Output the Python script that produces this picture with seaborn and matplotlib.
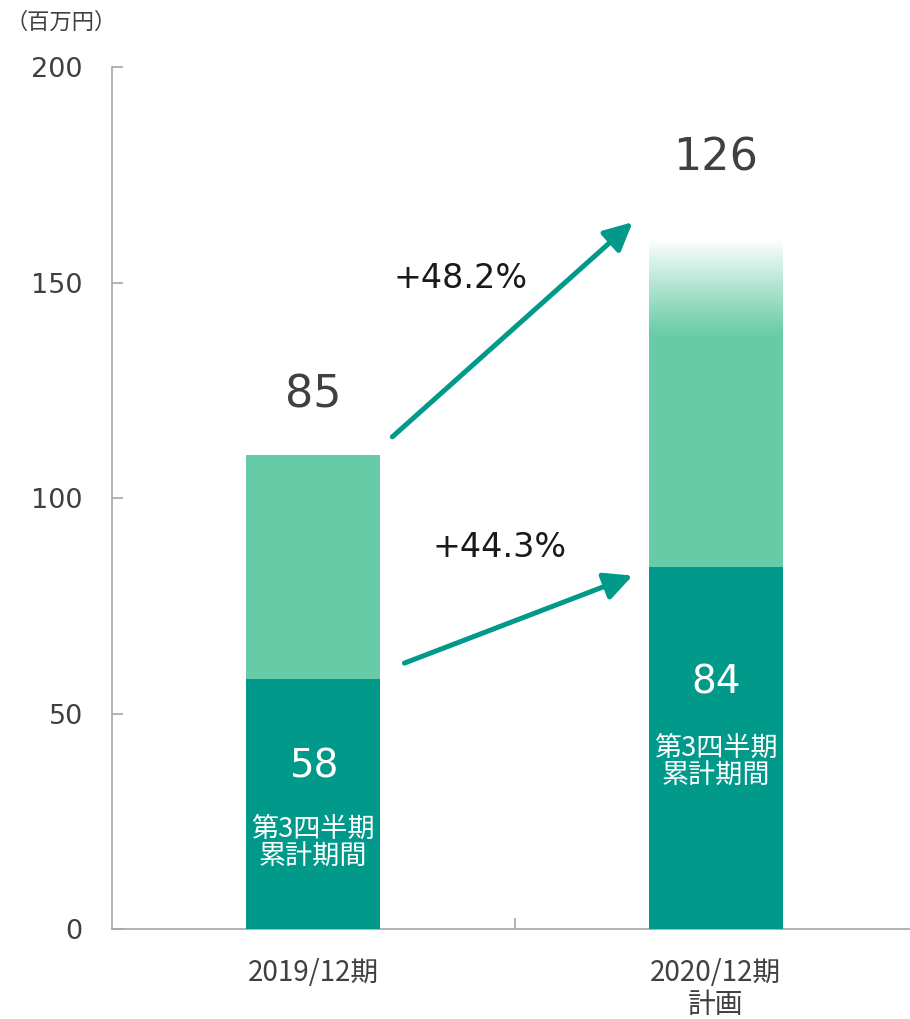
import numpy as np
import pandas as pd
import matplotlib
matplotlib.use("Agg")
import matplotlib.pyplot as plt
import seaborn as sns

# ---- data -------------------------------------------------------------
categories = ["2019/12期", "2020/12期\n計画"]
q3_cumulative = [58, 84]              # 第3四半期累計期間 (百万円)
full_period_bar = [110, 160]          # height of the full-period bar
full_year_labels = ["85", "126"]      # full-year figures shown above the bars
growth_labels = ["+48.2%", "+44.3%"]  # full-year growth, Q3 cumulative growth
segment_caption = "第3四半期\n累計期間"
unit_label = "（百万円）"
y_ticks = [0, 50, 100, 150, 200]

# ---- style ------------------------------------------------------------
DARK = "#00998A"
LIGHT = "#66CBA6"
AXIS = "#A6A6A6"
TEXT = "#404040"

sns.set_theme(style="white")
plt.rcParams["font.family"] = ["DejaVu Sans", "Noto Sans CJK JP"]
CJK = ["Noto Sans CJK JP", "DejaVu Sans"]

df = pd.DataFrame({"period": categories,
                   "q3": q3_cumulative,
                   "full": full_period_bar})

fig = plt.figure(figsize=(9.10, 10.19), dpi=100)
ax = fig.add_axes([0.1231, 0.0883, 0.8846, 0.8459])

BAR_W = 0.333
sns.barplot(data=df, x="period", y="full", color=LIGHT, saturation=1,
            width=BAR_W, linewidth=0, ax=ax, zorder=2)
sns.barplot(data=df, x="period", y="q3", color=DARK, saturation=1,
            width=BAR_W, linewidth=0, ax=ax, zorder=3)

light_bars = ax.patches[:2]
dark_bars = ax.patches[2:4]

# fade the top of the planned bar into the background
plan = light_bars[1]
fade_from = plan.get_height() - 23
n = 200
grad = np.ones((n, 1, 4))
grad[:, 0, 3] = np.linspace(0, 1, n) ** 1.1
ax.imshow(grad, extent=[plan.get_x(), plan.get_x() + plan.get_width(),
                        fade_from, plan.get_height()],
          origin="lower", aspect="auto", zorder=2.5, interpolation="bilinear")

ax.set_xlim(-0.5, 1.5)
ax.set_ylim(0, 200)
ax.set_xlabel("")
ax.set_ylabel("")

# ---- axes -------------------------------------------------------------
for side in ("top", "right"):
    ax.spines[side].set_visible(False)
for side in ("left", "bottom"):
    ax.spines[side].set_color(AXIS)
    ax.spines[side].set_linewidth(1.2)

ax.set_yticks(y_ticks)
ax.tick_params(axis="y", direction="in", length=8, width=1.2, color=AXIS,
               pad=21, labelsize=19.5, labelcolor=TEXT, left=True)
ax.set_xticks(range(len(categories)))
ax.set_xticklabels(categories, fontfamily=CJK, fontsize=20, color=TEXT,
                   linespacing=1.08)
ax.tick_params(axis="x", length=0, pad=21)
ax.set_xticks([0.5], minor=True)
ax.tick_params(axis="x", which="minor", direction="in", length=8, width=1.2,
               color=AXIS, bottom=True)

fig.text(0.006, 0.978, unit_label, fontfamily=CJK, fontsize=16, color=TEXT,
         ha="left", va="center")

# ---- value labels -----------------------------------------------------
total_offsets = [9, 14]
for bar, lab, off in zip(light_bars, full_year_labels, total_offsets):
    ax.text(bar.get_x() + bar.get_width() / 2, bar.get_height() + off, lab,
            ha="center", va="bottom", fontsize=32, color=TEXT, zorder=5)

value_y = [37.8, 57.3]
caption_y = [20.0, 38.7]
for bar, val, vy, cy in zip(dark_bars, q3_cumulative, value_y, caption_y):
    cx = bar.get_x() + bar.get_width() / 2
    ax.text(cx, vy, f"{val}", ha="center", va="center", fontsize=28,
            color="white", zorder=5)
    ax.text(cx, cy, segment_caption, ha="center", va="center",
            fontfamily=CJK, fontsize=19.5, color="white", linespacing=1.05,
            zorder=5)

# ---- growth arrows ----------------------------------------------------
arrow_kw = dict(arrowstyle="-|>,head_length=0.85,head_width=0.42",
                color=DARK, lw=3.6, shrinkA=0, shrinkB=0,
                mutation_scale=20, capstyle="round")

def edge_right(bar):
    return bar.get_x() + bar.get_width()

# full-period growth
ax.annotate("", xy=(light_bars[1].get_x() - 0.04, light_bars[1].get_height() + 4),
            xytext=(edge_right(light_bars[0]) + 0.03, light_bars[0].get_height() + 4.2),
            arrowprops=arrow_kw, zorder=4)
# Q3 cumulative growth
ax.annotate("", xy=(dark_bars[1].get_x() - 0.04, dark_bars[1].get_height() - 2),
            xytext=(edge_right(dark_bars[0]) + 0.06, dark_bars[0].get_height() + 3.7),
            arrowprops=arrow_kw, zorder=4)

ax.text(0.365, 151, growth_labels[0], ha="center", va="center",
        fontsize=24, color="#1A1A1A", zorder=5)
ax.text(0.463, 88.6, growth_labels[1], ha="center", va="center",
        fontsize=24, color="#1A1A1A", zorder=5)

fig.savefig("out.png", dpi=100, facecolor="white")
